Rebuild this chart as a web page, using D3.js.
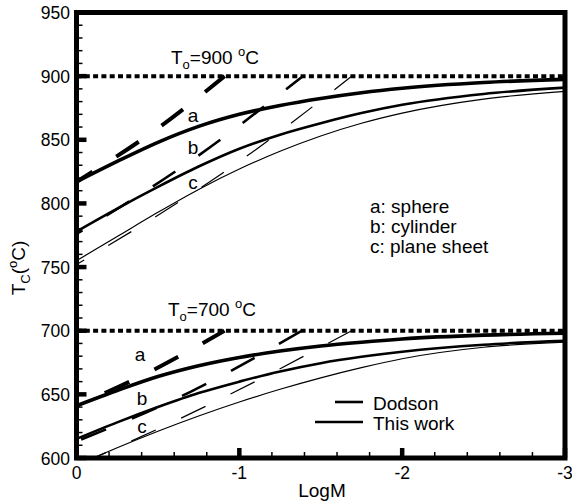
<!DOCTYPE html>
<html>
<head>
<meta charset="utf-8">
<script src="https://cdn.jsdelivr.net/npm/d3@7"></script>
<style>
  body { margin: 0; background: #fff; }
  text { font-family: Arial, "Liberation Sans", sans-serif; fill: #000; }
</style>
</head>
<body>
<div id="chartDiv"></div>
<script>
; (function () {

	var width = 572;
	var height = 504;

	// LogM positions where the "this work" curves were read
	var logM = [0, -0.25, -0.5, -0.75, -1, -1.25, -1.5, -1.75, -2, -2.5, -3];

	// T0 = 900 C
	var hiA = [817, 833, 848, 860.5, 870, 877, 882.5, 887, 890.5, 895, 897.5];
	var hiB = [778, 796, 813, 829, 843, 854, 863, 871, 877.5, 886, 891];
	var hiC = [755, 774, 793, 811, 827, 841, 853, 863, 871, 882, 888];

	// T0 = 700 C
	var loA = [641, 653, 664, 672.5, 679, 684, 688, 691, 693.5, 696.5, 698];
	var loB = [615, 628, 640, 651, 660, 668, 674.5, 679.5, 683.5, 689, 692];
	var loC = [594, 608, 621, 633, 644, 654, 663, 671, 678, 687, 691];

	// Dodson lines: [logM, Tc] points
	var dodHiA = [[0, 817], [-0.51, 860], [-0.91, 900]];
	var dodHiB = [[0, 776], [-0.72, 835], [-1.39, 900]];
	var dodHiC = [[0, 752], [-1.0, 833], [-1.69, 900]];
	var dodLoA = [[0, 641], [-0.47, 669], [-0.909, 700]];
	var dodLoB = [[0, 613], [-0.7, 652], [-1.385, 700]];
	var dodLoC = [[0, 594], [-0.8, 641], [-1.69, 700]];

	var initialTemps = [900, 700];
	var xTicks = [0, -1, -2, -3];
	var yTicks = [600, 650, 700, 750, 800, 850, 900, 950];

	var chart = d3.select("#chartDiv").append("svg")
		.attr("width", width)
		.attr("height", height);

	var xScale = d3.scaleLinear().domain([0, -3]).range([76.5, 565]);
	var yScale = d3.scaleLinear().domain([600, 950]).range([458, 12.5]);

	chart.append("defs").append("clipPath").attr("id", "plotClip")
		.append("rect")
		.attr("x", xScale(0)).attr("y", yScale(950))
		.attr("width", xScale(-3) - xScale(0))
		.attr("height", yScale(600) - yScale(950));

	var plot = chart.append("g").attr("clip-path", "url(#plotClip)");

	// T0 dotted lines
	plot.selectAll(".t0").data(initialTemps).enter().append("line")
		.attr("x1", xScale(0)).attr("x2", xScale(-3))
		.attr("y1", function (d) { return yScale(d); })
		.attr("y2", function (d) { return yScale(d); })
		.attr("stroke", "#000").attr("stroke-width", 4)
		.attr("stroke-dasharray", "5,3.3");

	var line = d3.line()
		.x(function (d) { return xScale(d[0]); })
		.y(function (d) { return yScale(d[1]); })
		.curve(d3.curveMonotoneX);

	function pairs(vals) {
		return logM.map(function (m, i) { return [m, vals[i]]; });
	}

	var solids = [
		{ v: hiA, w: 3.6 }, { v: hiB, w: 2.6 }, { v: hiC, w: 1.2 },
		{ v: loA, w: 3.6 }, { v: loB, w: 2.6 }, { v: loC, w: 1.2 }
	];
	solids.forEach(function (s) {
		plot.append("path")
			.attr("d", line(pairs(s.v)))
			.attr("fill", "none").attr("stroke", "#000")
			.attr("stroke-width", s.w);
	});

	var dodson = [
		{ p: dodHiA, w: 4, off: 8 }, { p: dodHiB, w: 2.6, off: 20 }, { p: dodHiC, w: 1.2, off: 18 },
		{ p: dodLoA, w: 4, off: 24 }, { p: dodLoB, w: 2.6, off: 50 }, { p: dodLoC, w: 1.2, off: 50 }
	];
	dodson.forEach(function (s) {
		plot.append("path")
			.attr("d", line(s.p))
			.attr("fill", "none").attr("stroke", "#000")
			.attr("stroke-width", s.w)
			.attr("stroke-dasharray", "27,28")
			.attr("stroke-dashoffset", s.off);
	});

	// ticks
	var axes = chart.append("g");
	d3.range(600, 951, 10).forEach(function (v) {
		var major = v % 50 === 0;
		axes.append("line")
			.attr("x1", xScale(0)).attr("x2", xScale(0) + (major ? 10 : 6))
			.attr("y1", yScale(v)).attr("y2", yScale(v))
			.attr("stroke", "#000").attr("stroke-width", major ? 4.5 : 1.5);
	});
	d3.range(0, 16).forEach(function (i) {
		var v = -i * 0.2;
		var major = i % 5 === 0;
		axes.append("line")
			.attr("x1", xScale(v)).attr("x2", xScale(v))
			.attr("y1", yScale(600)).attr("y2", yScale(600) - (major ? 10 : 6))
			.attr("stroke", "#000").attr("stroke-width", major ? 4.5 : 1.5);
	});

	// frame
	axes.append("rect")
		.attr("x", xScale(0)).attr("y", yScale(950))
		.attr("width", xScale(-3) - xScale(0))
		.attr("height", yScale(600) - yScale(950))
		.attr("fill", "none").attr("stroke", "#000").attr("stroke-width", 5);

	// tick labels
	axes.selectAll(".ylab").data(yTicks).enter().append("text")
		.attr("x", 70).attr("y", function (d) { return yScale(d) + 6.5; })
		.attr("text-anchor", "end").style("font-size", "17.5px")
		.text(function (d) { return d; });
	axes.selectAll(".xlab").data(xTicks).enter().append("text")
		.attr("x", function (d) { return xScale(d); }).attr("y", 479)
		.attr("text-anchor", "middle").style("font-size", "17.5px")
		.text(function (d) { return d; });

	chart.append("text")
		.attr("x", 322).attr("y", 497)
		.attr("text-anchor", "middle").style("font-size", "19px")
		.text("LogM");

	var yl = chart.append("text")
		.attr("text-anchor", "middle").style("font-size", "19px")
		.attr("transform", "translate(25,268) rotate(-90)");
	yl.append("tspan").text("T");
	yl.append("tspan").attr("dy", 5).style("font-size", "13px").text("C");
	yl.append("tspan").attr("dy", -5).text("(");
	yl.append("tspan").attr("dy", -8).style("font-size", "13px").text("o");
	yl.append("tspan").attr("dy", 8).text("C)");

	// T0 labels
	function t0Label(x, y, t) {
		var el = chart.append("text").attr("x", x).attr("y", y).style("font-size", "19px");
		el.append("tspan").text("T");
		el.append("tspan").attr("dy", 5).style("font-size", "13px").text("o");
		el.append("tspan").attr("dy", -5).text("=" + t + " ");
		el.append("tspan").attr("dy", -8).style("font-size", "13px").text("o");
		el.append("tspan").attr("dy", 8).text("C");
	}
	t0Label(171, 64, 900);
	t0Label(168, 316, 700);

	// curve letters
	var letters = [
		["a", 193, 122], ["b", 193, 154], ["c", 193, 189],
		["a", 140, 361], ["b", 142, 405], ["c", 142, 433]
	];
	chart.selectAll(".letter").data(letters).enter().append("text")
		.attr("x", function (d) { return d[1]; }).attr("y", function (d) { return d[2]; })
		.attr("text-anchor", "middle").style("font-size", "19px")
		.text(function (d) { return d[0]; });

	// geometry legend
	var geo = ["a: sphere", "b: cylinder", "c: plane sheet"];
	chart.selectAll(".geo").data(geo).enter().append("text")
		.attr("x", 370).attr("y", function (d, i) { return 213 + i * 20; })
		.style("font-size", "19px")
		.text(function (d) { return d; });

	// line legend
	chart.append("line").attr("x1", 335).attr("x2", 363).attr("y1", 402).attr("y2", 402)
		.attr("stroke", "#000").attr("stroke-width", 2.6);
	chart.append("line").attr("x1", 315).attr("x2", 363).attr("y1", 422).attr("y2", 422)
		.attr("stroke", "#000").attr("stroke-width", 2.6);
	chart.append("text").attr("x", 373).attr("y", 410).style("font-size", "19px").text("Dodson");
	chart.append("text").attr("x", 373).attr("y", 430).style("font-size", "19px").text("This work");

})();
</script>
</body>
</html>
